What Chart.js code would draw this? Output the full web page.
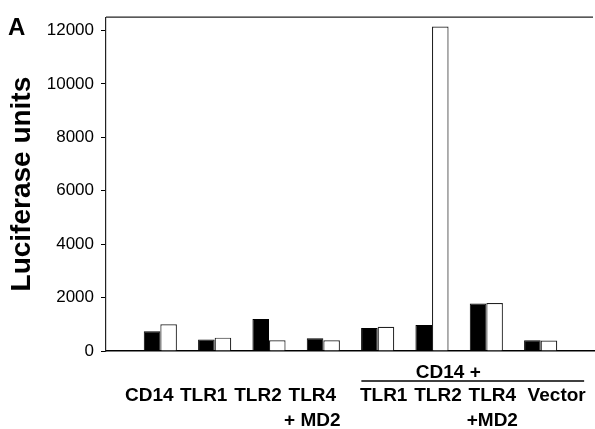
<!DOCTYPE html>
<html>
<head>
<meta charset="utf-8">
<script src="https://cdn.jsdelivr.net/npm/chart.js@4"></script>
<style>
  html, body { margin: 0; padding: 0; background: #fff; }
  #wrap { width: 595px; height: 429px; }
</style>
</head>
<body>
<div id="wrap"><canvas id="luc_chart"></canvas></div>
<script>
// categories along the x axis (empty slots at both ends leave the gaps next to the axes)
var categories = ['', 'CD14', 'TLR1', 'TLR2', ['TLR4', '+ MD2'], 'TLR1', 'TLR2', ['TLR4', '+MD2'], 'Vector', ''];
// luciferase units, black bars and white bars
var blackBars = [null, 740, 430, 1200, 475, 860, 970, 1775, 400, null];
var whiteBars = [null, 1000, 500, 400, 400, 910, 12150, 1795, 390, null];
var yTicks = [0, 2000, 4000, 6000, 8000, 10000, 12000];
var groupLabel = 'CD14 +';

var FONT = '"Liberation Sans", Arial, sans-serif';
var ctx = document.getElementById('luc_chart').getContext('2d');

// label nudges, the printed labels don't sit exactly under their bar pairs
function labelShift(i) {
    if (i <= 4) return -11;
    if (i == 8) return 16;
    return 6;
}

// extra bits drawn over the chart: panel letter, top frame line, x labels, "CD14 +" bracket
var extras = {
    id: 'extras',
    afterDraw: function (chart) {
        var c = chart.ctx;
        var area = chart.chartArea;
        var x = chart.scales.x;
        c.save();
        c.strokeStyle = '#222';
        c.lineWidth = 1.2;
        c.beginPath();
        c.moveTo(area.left, area.top);
        c.lineTo(area.right - 2, area.top);
        c.stroke();

        c.fillStyle = '#000';
        c.font = 'bold 24px ' + FONT;
        c.textAlign = 'left';
        c.textBaseline = 'alphabetic';
        c.fillText('A', 8, 35);

        // category labels, one or two lines
        c.font = 'bold 19px ' + FONT;
        c.textAlign = 'center';
        categories.forEach(function (lab, i) {
            var lines = Array.isArray(lab) ? lab : [lab];
            var px = x.getPixelForValue(i) + labelShift(i);
            lines.forEach(function (line, k) {
                c.fillText(line, px, 401 + k * 25);
            });
        });

        // bracket over the CD14 + groups
        c.fillText(groupLabel, x.getPixelForValue(6.3), 378);
        c.lineWidth = 1.6;
        c.strokeStyle = '#000';
        c.beginPath();
        c.moveTo(x.getPixelForValue(4.7), 381);
        c.lineTo(x.getPixelForValue(8.8), 381);
        c.stroke();
        c.restore();
    }
};

var lucChart = new Chart(ctx, {
    type: 'bar',
    data: {
        labels: categories,
        datasets: [{
            label: 'black',
            data: blackBars,
            backgroundColor: '#000',
            borderColor: '#000',
            borderWidth: 1
        }, {
            label: 'white',
            data: whiteBars,
            backgroundColor: '#fff',
            borderColor: '#222',
            borderWidth: 1.2
        }]
    },
    options: {
        responsive: true,
        maintainAspectRatio: false,
        animation: false,
        categoryPercentage: 0.61,
        barPercentage: 1.0,
        layout: { padding: { top: 15, left: 0, right: 0, bottom: 0 } },
        plugins: {
            legend: { display: false },
            tooltip: { enabled: false }
        },
        scales: {
            x: {
                offset: false,
                grid: { display: false, drawTicks: false },
                border: { display: true, color: '#000', width: 1.5 },
                ticks: { display: false, padding: 0 },
                afterFit: function (scale) { scale.height = 78; }
            },
            y: {
                min: 0,
                max: 12500,
                afterBuildTicks: function (scale) {
                    scale.ticks = yTicks.map(function (v) { return { value: v }; });
                },
                grid: { display: true, drawOnChartArea: false, drawTicks: true, tickLength: 5, color: '#000' },
                border: { display: true, color: '#222', width: 1.2 },
                ticks: {
                    color: '#000',
                    padding: 7,
                    font: { family: FONT, size: 17 },
                    callback: function (v) { return String(v); }
                },
                title: {
                    display: true,
                    text: 'Luciferase units',
                    color: '#000',
                    padding: { top: 5, bottom: 0 },
                    font: { family: FONT, size: 28, weight: 'bold' }
                },
                afterFit: function (scale) { scale.width = 106; }
            }
        }
    },
    plugins: [extras]
});
</script>
</body>
</html>
